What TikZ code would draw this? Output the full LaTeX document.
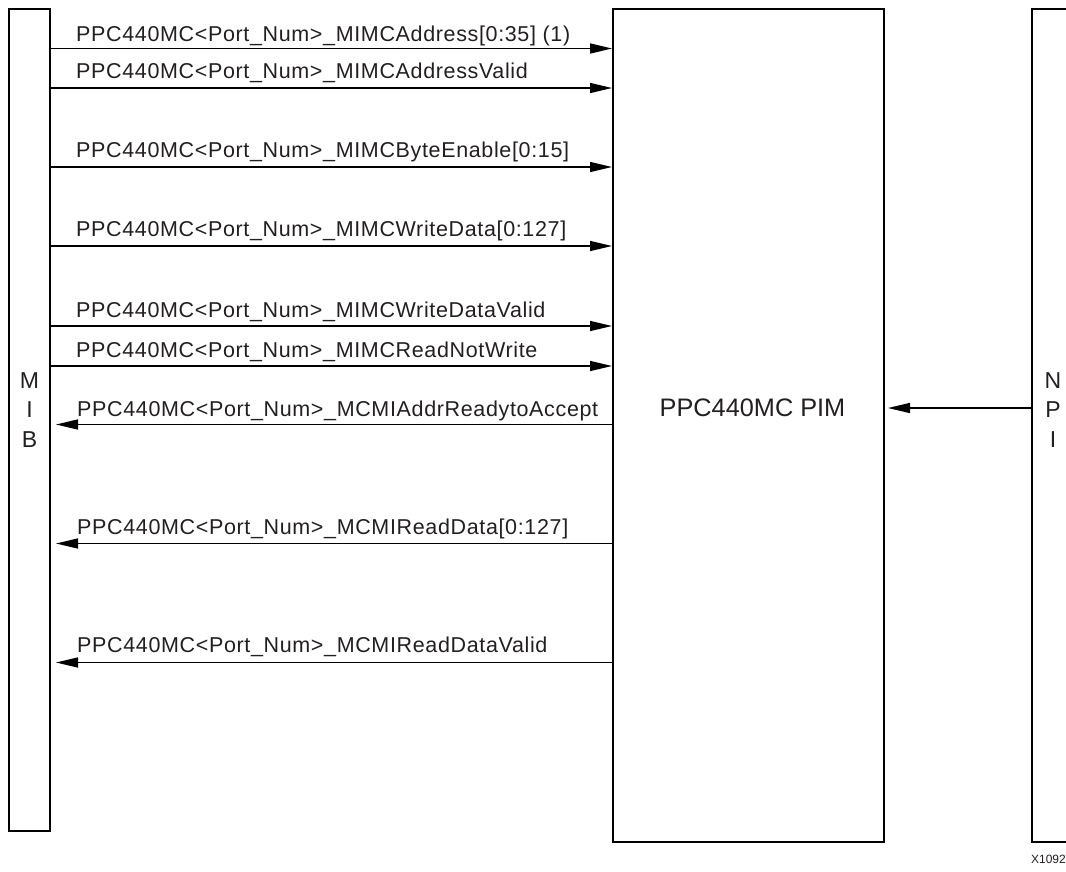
\documentclass[tikz,border=0pt]{standalone}
\usepackage{fontspec}
\setmainfont{Liberation Sans}
\newfontfamily\sigfont[LetterSpace=3]{Liberation Sans}
\usetikzlibrary{arrows.meta, positioning}
\definecolor{txtgray}{RGB}{35,31,32}
\tikzset{
  busbox/.style={rectangle, draw, line width=2pt, inner sep=0pt},
  sig/.style={-{Triangle[length=22pt, width=10pt]}, line width=1.5pt},
  sigback/.style={sig, shorten >=5pt},
  siglabel/.style={anchor=base west, inner sep=0pt, text=txtgray,
    font=\sigfont\fontsize{21.5}{24}\selectfont},
  boxlabel/.style={align=center, inner sep=0pt, text=txtgray,
    font=\fontsize{23}{29.5}\selectfont}
}

\begin{document}
\begin{tikzpicture}[x=1pt, y=-1pt]
  \useasboundingbox (0,0) rectangle (1066,871);
  \clip (0,0) rectangle (1066,871);

  % Blocks
  \node[busbox, minimum width=41pt, minimum height=822pt] (mib) at (29.5,420) {};
  \node[busbox, minimum width=271pt, minimum height=833pt] (pim) at (748.5,425) {};
  \node[busbox, minimum width=41pt, minimum height=833pt] (npi) at (1052.5,425) {};
  \node[boxlabel] (mibtxt) at (29.5,410) {M\\I\\B};
  \node[boxlabel] (npitxt) at (1053,410) {N\\P\\I};
  \node[boxlabel, font=\fontsize{25.3}{30}\selectfont] (pimtxt) at (752.5,408) {PPC440MC PIM};

  % MIB to PIM
  \draw[sig] (mib.east |- 0,48.5) -- (pim.west |- 0,48.5);
  \node[siglabel] at (76,41) {PPC440MC<Port\_Num>\_MIMCAddress[0:35] (1)};
  \draw[sig] (mib.east |- 0,88) -- (pim.west |- 0,88);
  \node[siglabel] at (76,78) {PPC440MC<Port\_Num>\_MIMCAddressValid};
  \draw[sig] (mib.east |- 0,167) -- (pim.west |- 0,167);
  \node[siglabel] at (76,157) {PPC440MC<Port\_Num>\_MIMCByteEnable[0:15]};
  \draw[sig] (mib.east |- 0,246) -- (pim.west |- 0,246);
  \node[siglabel] at (76,236) {PPC440MC<Port\_Num>\_MIMCWriteData[0:127]};
  \draw[sig] (mib.east |- 0,326) -- (pim.west |- 0,326);
  \node[siglabel] at (76,317) {PPC440MC<Port\_Num>\_MIMCWriteDataValid};
  \draw[sig] (mib.east |- 0,366) -- (pim.west |- 0,366);
  \node[siglabel] at (76,357) {PPC440MC<Port\_Num>\_MIMCReadNotWrite};

  % PIM to MIB
  \draw[sigback] (pim.west |- 0,424.5) -- (mib.east |- 0,424.5);
  \node[siglabel] at (77,416) {PPC440MC<Port\_Num>\_MCMIAddrReadytoAccept};
  \draw[sigback] (pim.west |- 0,543.5) -- (mib.east |- 0,543.5);
  \node[siglabel] at (77,534) {PPC440MC<Port\_Num>\_MCMIReadData[0:127]};
  \draw[sigback] (pim.west |- 0,662.5) -- (mib.east |- 0,662.5);
  \node[siglabel] at (77,652) {PPC440MC<Port\_Num>\_MCMIReadDataValid};

  % NPI to PIM
  \draw[sig, shorten >=3pt] (npi.west |- 0,408) -- (pim.east |- 0,408);

  \node[anchor=base east, inner sep=0pt, text=txtgray, font=\fontsize{12}{14}\selectfont] (fig) at (1066,863) {X1092};
\end{tikzpicture}
\end{document}
